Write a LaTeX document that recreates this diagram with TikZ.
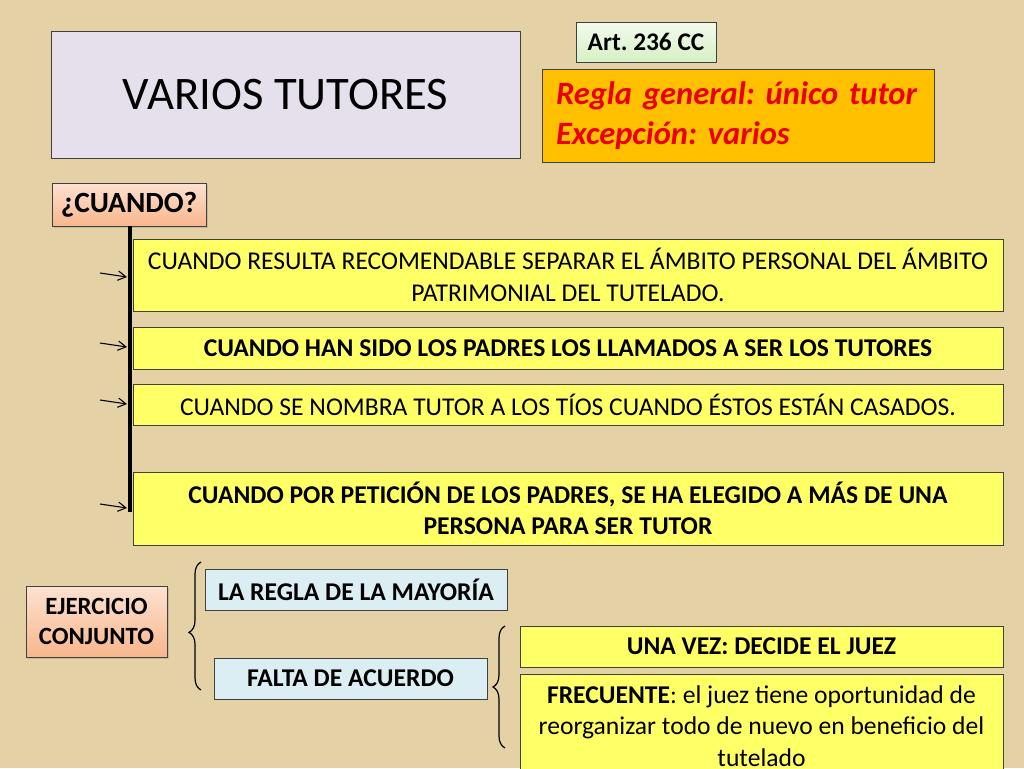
\documentclass[tikz,border=0pt]{standalone}
\usepackage{fontspec}
\setmainfont{Carlito}
\usepackage{tikz}
\usetikzlibrary{positioning,calc,shadows,decorations.pathreplacing,arrows.meta}
\frenchspacing

\definecolor{papel}{RGB}{228,209,166}
\definecolor{lila}{RGB}{229,224,236}
\definecolor{naranja}{RGB}{255,192,0}
\definecolor{rojo}{RGB}{235,0,0}
\definecolor{amarillo}{RGB}{255,255,102}
\definecolor{celeste}{RGB}{219,238,244}
\definecolor{melocoton}{RGB}{248,182,140}
\definecolor{verdeclaro}{RGB}{214,240,196}

\tikzset{
  caja/.style={draw=black!75, line width=0.6pt, inner sep=0pt, align=center,
    font=\fontsize{19.2}{23.5}\selectfont},
  amarilla/.style={caja, fill=amarillo, minimum width=652.5pt},
  azul/.style={caja, fill=celeste, minimum height=30.75pt, font=\fontsize{19.2}{23.5}\selectfont\bfseries},
  pregunta/.style={caja, top color=melocoton!40, bottom color=melocoton,
    drop shadow={opacity=0.3, shadow xshift=1.5pt, shadow yshift=-1.5pt},
    font=\fontsize{22}{24}\selectfont\bfseries},
  flecha/.style={-{Straight Barb[length=6pt,width=7pt]}, line width=0.8pt},
  llave/.style={decorate, decoration={brace, amplitude=9pt}, line width=0.9pt}
}

\begin{document}
\begin{tikzpicture}[x=0.75pt,y=-0.75pt]
    \fill [papel] (0,0) rectangle (1024,768);
    \useasboundingbox (0,0) rectangle (1024,768);
    \clip (0,0) rectangle (1024,768);

    % Cabecera
    \node [caja, fill=lila, minimum width=351.75pt, minimum height=95.25pt,
           font=\fontsize{35}{40}\selectfont] (titulo) at (285.5,94.5) {VARIOS TUTORES};
    \node [caja, top color=verdeclaro!30, bottom color=verdeclaro, minimum width=105pt,
           minimum height=30pt, font=\fontsize{19}{22}\selectfont\bfseries] (art) at (646,42) {Art. 236 CC};
    \node [caja, fill=naranja, text width=273.75pt, inner xsep=10pt, minimum height=69.75pt,
           align=left, text=rojo, font=\fontsize{24.4}{30}\selectfont\bfseries\itshape]
           (regla) at (738.5,115.5) {Regla general: único tutor\\Excepción: varios};

    % Cuando
    \node [pregunta, minimum width=115.5pt, minimum height=32.25pt] (cuando) at (129,204.5) {¿CUANDO?};
    \node [amarilla, minimum height=54pt] (c1) at (568,275)
        {CUANDO RESULTA RECOMENDABLE SEPARAR EL ÁMBITO PERSONAL DEL ÁMBITO\\PATRIMONIAL DEL TUTELADO.};
    \node [amarilla, minimum height=31.5pt, font=\fontsize{19.2}{23.5}\selectfont\bfseries] (c2) at (568,348)
        {CUANDO HAN SIDO LOS PADRES LOS LLAMADOS A SER LOS TUTORES};
    \node [amarilla, minimum height=30.75pt] (c3) at (568,404.5)
        {CUANDO SE NOMBRA TUTOR A LOS TÍOS CUANDO ÉSTOS ESTÁN CASADOS.};
    \node [amarilla, minimum height=54.75pt, font=\fontsize{19.2}{23.5}\selectfont\bfseries] (c4) at (568,508.5)
        {CUANDO POR PETICIÓN DE LOS PADRES, SE HA ELEGIDO A MÁS DE UNA\\PERSONA PARA SER TUTOR};

    % Eje vertical y flechas
    \coordinate (ejeA) at (130,226);
    \coordinate (ejeB) at (130,512);
    \draw [line width=3pt] (ejeA) -- (ejeB);
    \foreach \y/\n in {277/1,347/2,404/3,508/4} {
        \coordinate (f\n) at (100,\y-4);
        \coordinate (g\n) at (127,\y);
        \draw [flecha] (f\n) -- (g\n);
    }

    % Ejercicio conjunto
    \node [pregunta, minimum width=105.75pt, minimum height=53.25pt,
           font=\fontsize{18.6}{22.5}\selectfont\bfseries] (ejercicio) at (96.5,621.5) {EJERCICIO\\CONJUNTO};
    \node [azul, minimum width=226.5pt] (mayoria) at (356,589.5) {LA REGLA DE LA MAYORÍA};
    \node [azul, minimum width=204.75pt] (falta) at (350.5,678.5) {FALTA DE ACUERDO};
    \node [amarilla, minimum width=362.25pt, minimum height=30.75pt,
           font=\fontsize{19.2}{23.5}\selectfont\bfseries] (unavez) at (761.5,646.5) {UNA VEZ: DECIDE EL JUEZ};
    \node [amarilla, minimum width=362.25pt, minimum height=78pt] (frecuente) at (761.5,726)
        {\textbf{FRECUENTE}: el juez tiene oportunidad de\\reorganizar todo de nuevo en beneficio del\\tutelado};

    % Llaves
    \coordinate (l1a) at (201,690);
    \coordinate (l1b) at (201,562);
    \draw [llave, decoration={aspect=0.45}] (l1a) -- (l1b);
    \coordinate (l2a) at (505,748);
    \coordinate (l2b) at (505,626);
    \draw [llave] (l2a) -- (l2b);
\end{tikzpicture}
\end{document}
